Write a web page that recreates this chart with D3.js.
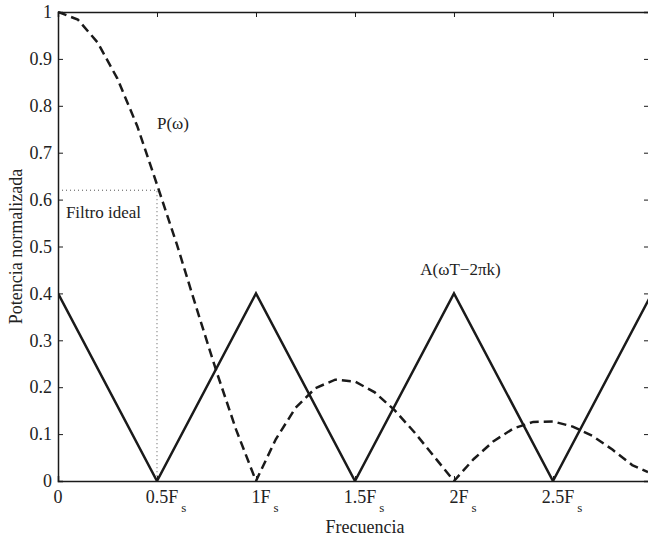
<!DOCTYPE html>
<html>
<head>
<meta charset="utf-8">
<script src="https://cdn.jsdelivr.net/npm/d3@7"></script>
<style>
  body { margin: 0; background: #fff; }
  text { font-family: 'Liberation Serif', 'Times New Roman', serif; fill: #222; }
</style>
</head>
<body>
<div id="chart"></div>
<script>
// Aliased spectrum A(wT - 2pi k) (in units of Fs)
const aliasX = [0, 0.5, 1, 1.5, 2, 2.5, 3]
const aliasY = [0.4, 0, 0.4, 0, 0.4, 0, 0.4]

// Normalised power P(w), dashed curve
const powerX = [0, 0.1, 0.2, 0.3, 0.4, 0.5, 0.6, 0.7, 0.8, 0.9, 1.0,
  1.1, 1.2, 1.3, 1.4, 1.5, 1.6, 1.7, 1.8, 1.9, 2.0,
  2.1, 2.2, 2.3, 2.4, 2.5, 2.6, 2.7, 2.8, 2.9, 2.98]
const powerY = [1, 0.984, 0.935, 0.858, 0.757, 0.632, 0.505, 0.368, 0.234, 0.109, 0,
  0.089, 0.156, 0.198, 0.216, 0.212, 0.189, 0.151, 0.104, 0.052, 0,
  0.047, 0.085, 0.112, 0.126, 0.127, 0.116, 0.096, 0.067, 0.034, 0.019]

// ideal filter cut
const filterX = 0.5
const filterY = 0.62

const xTicks = [0, 0.5, 1, 1.5, 2, 2.5]
const xTickNums = ['0', '0.5', '1', '1.5', '2', '2.5']
const yTicks = [0, 0.1, 0.2, 0.3, 0.4, 0.5, 0.6, 0.7, 0.8, 0.9, 1]

const dimensions = {
  width: 648,
  height: 540,
  margin: { top: 12, right: -1, bottom: 59, left: 58 }
}
const innerW = dimensions.width - dimensions.margin.left - dimensions.margin.right
const innerH = dimensions.height - dimensions.margin.top - dimensions.margin.bottom

const svg = d3.select('#chart').append('svg')
  .attr('width', dimensions.width)
  .attr('height', dimensions.height)

svg.append('defs').append('clipPath').attr('id', 'plotclip')
  .append('rect').attr('width', innerW).attr('height', innerH + 2).attr('y', -1)

const bounds = svg.append('g')
  .attr('transform', `translate(${dimensions.margin.left}, ${dimensions.margin.top})`)

const xScale = d3.scaleLinear().domain([0, 2.985]).range([0, innerW])
const yScale = d3.scaleLinear().domain([0, 1]).range([innerH, 0])

// dotted ideal filter
bounds.append('path')
  .attr('d', `M${xScale(0)},${yScale(filterY)}H${xScale(filterX)}V${yScale(0)}`)
  .attr('fill', 'none')
  .attr('stroke', '#555')
  .attr('stroke-width', 1)
  .attr('stroke-dasharray', '1,3')

const plot = bounds.append('g').attr('clip-path', 'url(#plotclip)')

const line = d3.line().x(d => xScale(d[0])).y(d => yScale(d[1]))

plot.append('path')
  .datum(d3.zip(aliasX, aliasY))
  .attr('d', line)
  .attr('fill', 'none')
  .attr('stroke', '#1a1a1a')
  .attr('stroke-width', 2.5)
  .attr('stroke-linejoin', 'miter')

plot.append('path')
  .datum(d3.zip(powerX, powerY))
  .attr('d', line)
  .attr('fill', 'none')
  .attr('stroke', '#1a1a1a')
  .attr('stroke-width', 2.5)
  .attr('stroke-dasharray', '9,5')

// axes (MATLAB style, ticks inward)
const yAxisL = bounds.append('g')
  .call(d3.axisLeft(yScale).tickValues(yTicks).tickSize(-5).tickPadding(6).tickFormat(d3.format('~g')))
const yAxisR = bounds.append('g')
  .attr('transform', `translate(${innerW}, 0)`)
  .call(d3.axisRight(yScale).tickValues(yTicks).tickSize(-5).tickFormat(''))
const xAxisB = bounds.append('g')
  .attr('transform', `translate(0, ${innerH})`)
  .call(d3.axisBottom(xScale).tickValues(xTicks).tickSize(-5).tickFormat(''))
const xAxisT = bounds.append('g')
  .call(d3.axisTop(xScale).tickValues(xTicks).tickSize(-5).tickFormat(''))

;[yAxisL, yAxisR, xAxisB, xAxisT].forEach(a => {
  a.select('.domain').attr('stroke', '#1a1a1a').attr('stroke-width', 1.5)
  a.selectAll('.tick line').attr('stroke', '#1a1a1a')
})
yAxisL.selectAll('.tick text')
  .style('font-family', "'Liberation Serif', serif")
  .attr('font-size', 18)
  .attr('fill', '#222')

// x tick labels: number centred on tick, then F with subscript s
xTicks.forEach((t, i) => {
  const g = bounds.append('g').attr('transform', `translate(${xScale(t)}, ${innerH + 22})`)
  const num = g.append('text').attr('font-size', 18).attr('text-anchor', 'middle').text(xTickNums[i])
  if (t === 0) return
  const w = num.node().getComputedTextLength()
  g.append('text').attr('font-size', 18).attr('x', w / 2).text('F')
  g.append('text').attr('font-size', 13).attr('x', w / 2 + 13).attr('y', 9).text('s')
})

// labels
svg.append('text')
  .attr('x', 365)
  .attr('y', 533)
  .attr('text-anchor', 'middle')
  .attr('font-size', 18)
  .text('Frecuencia')

svg.append('text')
  .attr('transform', `translate(22, ${dimensions.margin.top + innerH / 2}) rotate(-90)`)
  .attr('text-anchor', 'middle')
  .attr('font-size', 18)
  .text('Potencia normalizada')

bounds.append('text').attr('x', xScale(0.5)).attr('y', yScale(0.75)).attr('font-size', 17).text('P(ω)')
bounds.append('text').attr('x', xScale(0.04)).attr('y', yScale(0.56)).attr('font-size', 17).text('Filtro ideal')
bounds.append('text').attr('x', xScale(1.83)).attr('y', yScale(0.44)).attr('font-size', 17).text('A(ωT−2πk)')
</script>
</body>
</html>
